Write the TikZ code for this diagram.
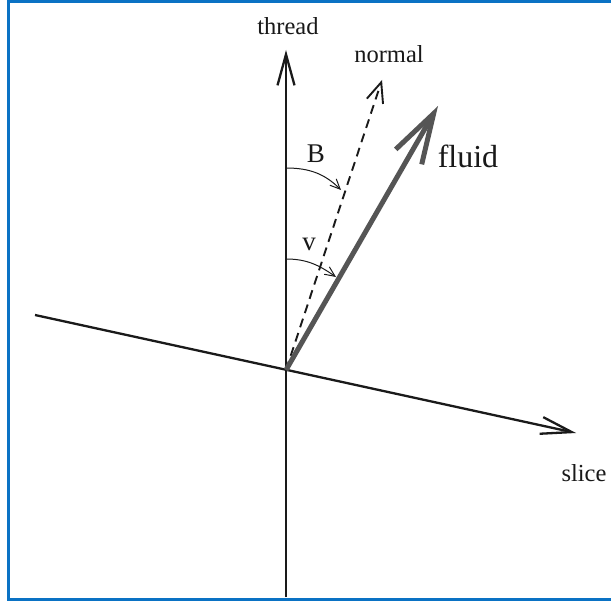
\documentclass[tikz,border=0pt]{standalone}
\usepackage{fontspec}
\setmainfont{Liberation Serif}
\usetikzlibrary{arrows.meta}
\definecolor{frameblue}{HTML}{0A72C4}
\definecolor{fluidgray}{HTML}{555555}
\definecolor{axisblack}{HTML}{1A1A1A}
\tikzset{
  axisline/.style={draw=axisblack, line width=2.3pt},
  bigbarb/.style={-{Straight Barb[length=31pt,width=17pt]}},
  lbl/.style={anchor=base, inner sep=0pt, font=\fontsize{24.5}{28}\selectfont, text=black!90},
  anglearc/.style={draw=axisblack, line width=1pt, -{Straight Barb[length=10pt,width=9pt]}},
  frameline/.style={draw=frameblue, line width=3pt},
}
\begin{document}
\begin{tikzpicture}[x=1pt,y=-1pt]
\fill[white] (0,0) rectangle (611,602);
\useasboundingbox (0,0) rectangle (611,602);
% frame (left, top and bottom edges; the right edge lies outside the picture)
\coordinate (FTL) at (8.5,2);
\coordinate (FTR) at (611,2);
\coordinate (FBL) at (8.5,599.5);
\coordinate (FBR) at (611,599.5);
\draw[frameline] (FTL) -- (FTR);
\draw[frameline] (FBL) -- (FBR);
\draw[frameline] (8.5,0.5) -- (8.5,601);
% coordinates
\coordinate (O) at (286,370);
\coordinate (threadTop) at (286,50);
\coordinate (threadBot) at (286,597);
\coordinate (sliceL) at (35,315);
\coordinate (sliceR) at (576,433);
\coordinate (normTip) at (382,80);
\coordinate (fluidTip) at (438,106);
\coordinate (Bstart) at (286,168);
\coordinate (Bend) at (341,190);
\coordinate (vstart) at (286,259);
\coordinate (vend) at (336,277);
% axes
\draw[axisline, bigbarb] (threadBot) -- (threadTop);
\draw[axisline, bigbarb] (sliceL) -- (sliceR);
% normal
\draw[axisline, line width=1.9pt, dash pattern=on 9pt off 6pt,
  -{Straight Barb[length=20pt,width=17pt]}] (O) -- (normTip);
% fluid
\draw[fluidgray, line width=5pt, -{Straight Barb[length=50pt,width=30pt]}] (O) -- (fluidTip);
% angle arcs
\draw[anglearc] (Bstart) to[out=0, in=135] (Bend);
\draw[anglearc] (vstart) to[out=0, in=145] (vend);
% labels
\node[lbl] (thread) at (288,35) {thread};
\node[lbl] (normal) at (389,63) {normal};
\node[lbl, font=\fontsize{32}{36}\selectfont] (fluid) at (468,167) {fluid};
\node[lbl, font=\fontsize{27}{30}\selectfont] (B) at (316,162) {B};
\node[lbl, font=\fontsize{27}{30}\selectfont] (v) at (309,250) {v};
\node[lbl] (slice) at (584,481.5) {slice};
\end{tikzpicture}
\end{document}
